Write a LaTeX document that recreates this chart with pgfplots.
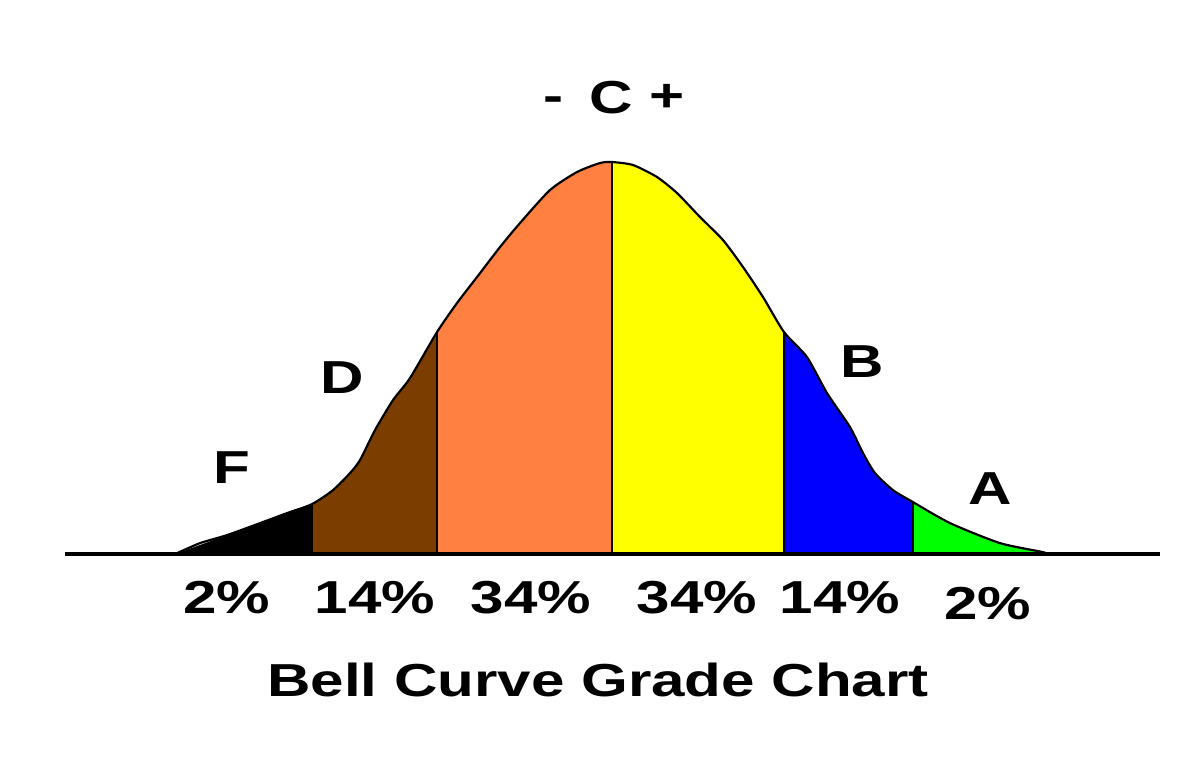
\documentclass[border=0pt]{standalone}
\usepackage{pgfplots}
\pgfplotsset{compat=1.18}
\usepgfplotslibrary{fillbetween}
\usepackage{fontspec}
\setmainfont{Liberation Sans}

\definecolor{gF}{RGB}{0,0,0}
\definecolor{gD}{RGB}{124,62,0}
\definecolor{gCm}{RGB}{255,128,64}
\definecolor{gCp}{RGB}{255,255,0}
\definecolor{gB}{RGB}{0,0,255}
\definecolor{gA}{RGB}{0,255,0}

\tikzset{lbl/.style={font=\fontsize{17}{20}\selectfont\bfseries, inner sep=0pt}}
% the lettering in the picture is set wide
\newcommand{\wide}[1]{\scalebox{1.3}[1]{#1}}

\begin{document}
\begin{tikzpicture}
\begin{axis}[
    scale only axis,
    width=15.5cm, height=10cm,
    xmin=0, xmax=1200, ymin=-220, ymax=554,
    axis lines=none,
    clip=false,
]
% keep the page as large as the whole plotting box
\path (rel axis cs:0,0) rectangle (rel axis cs:1,1);

% bell curve, heights above the baseline
\addplot[name path=curve, draw=none, smooth, tension=0.4] coordinates {
(175,0) (200,11) (227,19) (260,31) (287,41) (312,50) (333,64) (350,81)
(360,94) (375,124) (393,154) (410,176) (437,222) (457,251) (477,277)
(500,307) (520,331) (550,364) (577,382) (600,391) (612,392) (633,389)
(657,377) (677,361) (700,337) (723,314) (743,287) (763,257) (784,222)
(807,197) (827,161) (850,127) (863,101) (875,81) (893,64) (913,52)
(950,31) (1000,11) (1043,2) (1047,0)
};
\addplot[name path=base, draw=none] coordinates {(175,0) (1047,0)};

\addplot[gF]  fill between[of=curve and base, soft clip={domain=175:312}];
\addplot[gD]  fill between[of=curve and base, soft clip={domain=312:437}];
\addplot[gCm] fill between[of=curve and base, soft clip={domain=437:612}];
\addplot[gCp] fill between[of=curve and base, soft clip={domain=612:784}];
\addplot[gB]  fill between[of=curve and base, soft clip={domain=784:913}];
\addplot[gA]  fill between[of=curve and base, soft clip={domain=913:1047}];

% outline and dividers
\addplot[black, line width=0.8pt, smooth, tension=0.4] coordinates {
(175,0) (200,11) (227,19) (260,31) (287,41) (312,50) (333,64) (350,81)
(360,94) (375,124) (393,154) (410,176) (437,222) (457,251) (477,277)
(500,307) (520,331) (550,364) (577,382) (600,391) (612,392) (633,389)
(657,377) (677,361) (700,337) (723,314) (743,287) (763,257) (784,222)
(807,197) (827,161) (850,127) (863,101) (875,81) (893,64) (913,52)
(950,31) (1000,11) (1043,2) (1047,0)
};
\addplot[black, line width=0.8pt] coordinates {(312,0) (312,50)};
\addplot[black, line width=0.8pt] coordinates {(437,0) (437,222)};
\addplot[black, line width=0.8pt] coordinates {(612,0) (612,392)};
\addplot[black, line width=0.8pt] coordinates {(784,0) (784,222)};
\addplot[black, line width=0.8pt] coordinates {(913,0) (913,52)};
\addplot[black, line width=1.2pt] coordinates {(65,0) (1160,0)};

% grade letters
\node[lbl] at (axis cs:554,450) {\wide{-}};
\node[lbl] at (axis cs:611,456) {\wide{C}};
\node[lbl] at (axis cs:667,456) {\wide{+}};
\node[lbl] at (axis cs:232,87) {\wide{F}};
\node[lbl] at (axis cs:342,176) {\wide{D}};
\node[lbl] at (axis cs:862,192) {\wide{B}};
\node[lbl] at (axis cs:990,66) {\wide{A}};

% shares
\node[lbl] at (axis cs:227,-43) {\wide{2\%}};
\node[lbl] at (axis cs:375,-43) {\wide{14\%}};
\node[lbl] at (axis cs:531,-43) {\wide{34\%}};
\node[lbl] at (axis cs:697,-43) {\wide{34\%}};
\node[lbl] at (axis cs:840,-43) {\wide{14\%}};
\node[lbl] at (axis cs:988,-49) {\wide{2\%}};

\node[lbl] at (axis cs:598,-126) {\wide{Bell Curve Grade Chart}};
\end{axis}
\end{tikzpicture}
\end{document}
